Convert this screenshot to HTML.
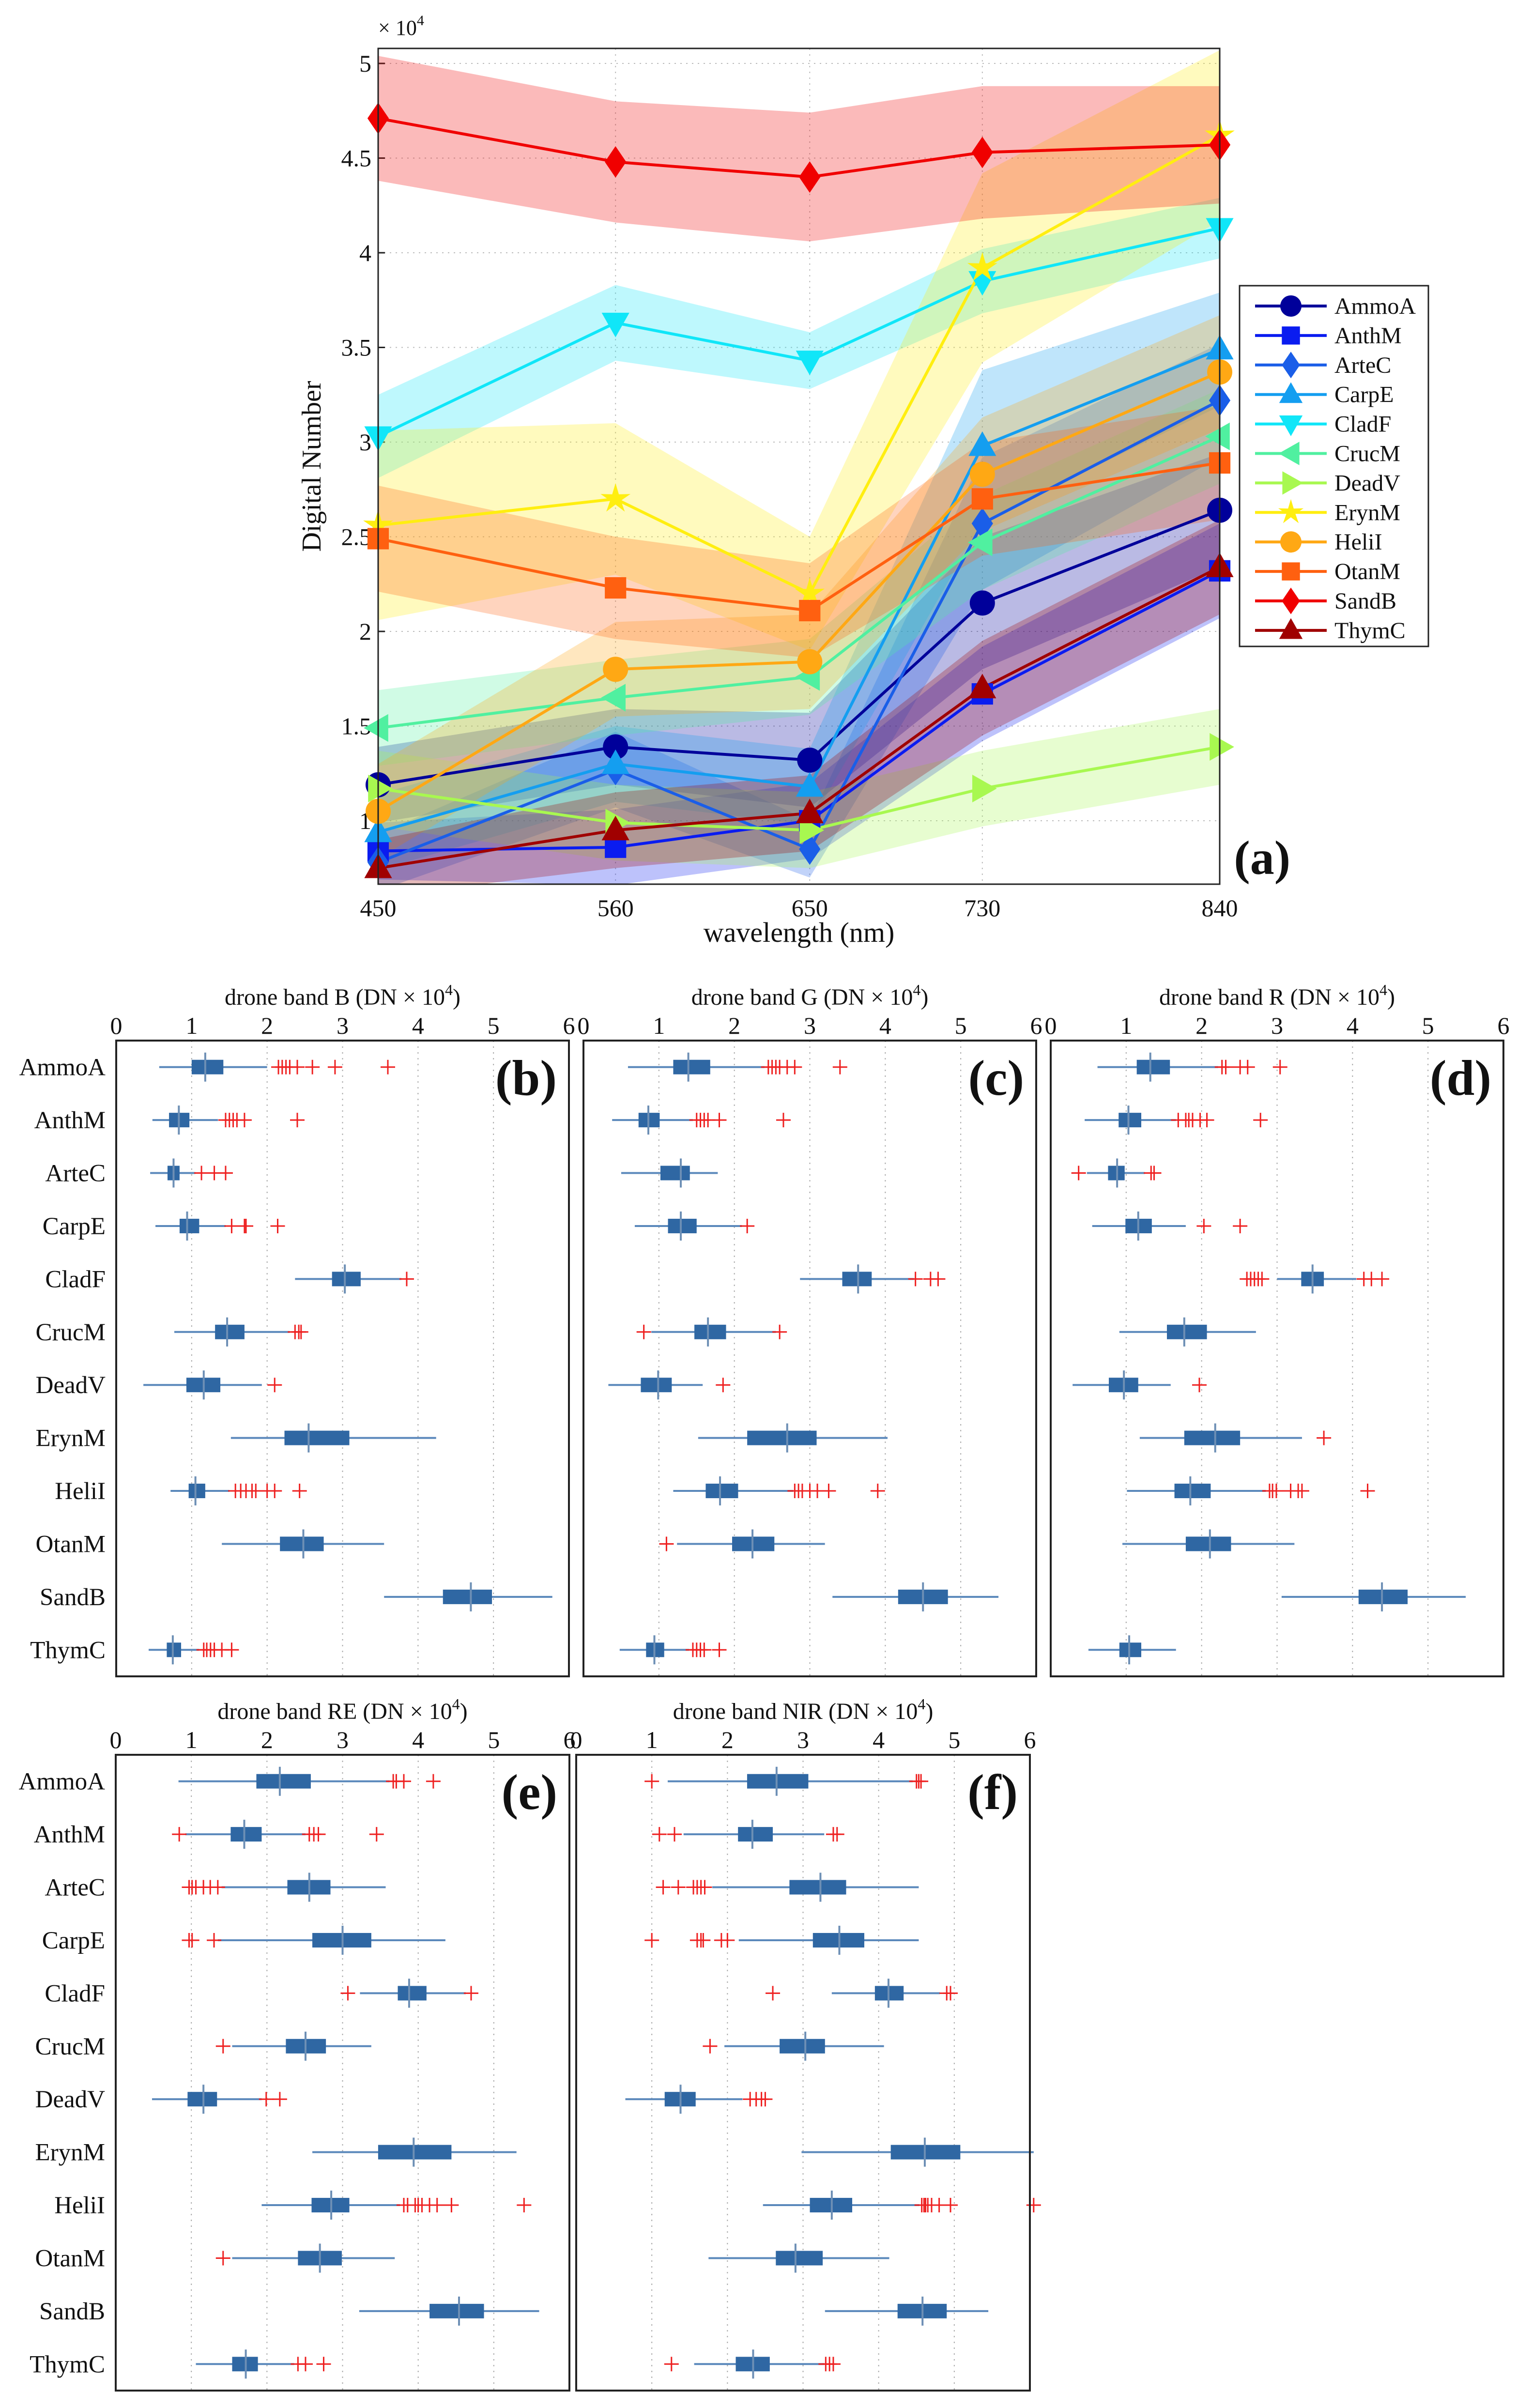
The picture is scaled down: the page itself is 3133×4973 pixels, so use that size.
<!DOCTYPE html>
<html><head><meta charset="utf-8"><style>
html,body{margin:0;padding:0;background:#fff;}
svg{display:block;}
text{font-family:"Liberation Serif",serif;fill:#111;}
.bold{font-family:"Liberation Serif",serif;font-weight:bold;}
</style></head><body>
<svg id="fig" xmlns="http://www.w3.org/2000/svg" width="3133" height="4973" viewBox="0 0 3133 4973">
<rect x="0" y="0" width="3133" height="4973" fill="#fff"/>
<defs><clipPath id="plotclip"><rect x="781" y="100" width="1738" height="1726"/></clipPath></defs>
<g id="lineChart"></g>
<g id="boxCharts"></g>
</svg>
<script>
const NS = "http://www.w3.org/2000/svg";
// ---------- Line chart data ----------
const wavelengths = [450, 560, 650, 730, 840];
const seriesNames = ["AmmoA","AnthM","ArteC","CarpE","CladF","CrucM","DeadV","ErynM","HeliI","OtanM","SandB","ThymC"];
const yTicks = [1, 1.5, 2, 2.5, 3, 3.5, 4, 4.5, 5];
const meanAmmoA = [1.19, 1.39, 1.32, 2.15, 2.64];
const meanAnthM = [0.84, 0.86, 1.00, 1.67, 2.32];
const meanArteC = [0.78, 1.27, 0.85, 2.57, 3.22];
const meanCarpE = [0.94, 1.30, 1.18, 2.98, 3.49];
const meanCladF = [3.03, 3.63, 3.43, 3.85, 4.13];
const meanCrucM = [1.49, 1.65, 1.76, 2.47, 3.03];
const meanDeadV = [1.17, 0.99, 0.95, 1.17, 1.39];
const meanErynM = [2.56, 2.70, 2.20, 3.92, 4.62];
const meanHeliI = [1.05, 1.80, 1.84, 2.83, 3.37];
const meanOtanM = [2.49, 2.23, 2.11, 2.70, 2.89];
const meanSandB = [4.71, 4.48, 4.40, 4.53, 4.57];
const meanThymC = [0.75, 0.95, 1.04, 1.70, 2.34];
const sdAmmoA = [0.20, 0.20, 0.25, 0.35, 0.30];
const sdAnthM = [0.15, 0.20, 0.20, 0.25, 0.25];
const sdArteC = [0.15, 0.20, 0.15, 0.35, 0.30];
const sdCarpE = [0.20, 0.20, 0.20, 0.40, 0.30];
const sdCladF = [0.22, 0.20, 0.15, 0.17, 0.16];
const sdCrucM = [0.20, 0.20, 0.20, 0.25, 0.25];
const sdDeadV = [0.20, 0.20, 0.20, 0.20, 0.20];
const sdErynM = [0.50, 0.40, 0.30, 0.50, 0.45];
const sdHeliI = [0.25, 0.25, 0.25, 0.30, 0.30];
const sdOtanM = [0.28, 0.27, 0.25, 0.30, 0.30];
const sdSandB = [0.33, 0.32, 0.34, 0.35, 0.31];
const sdThymC = [0.15, 0.20, 0.20, 0.25, 0.25];

const means = [meanAmmoA,meanAnthM,meanArteC,meanCarpE,meanCladF,meanCrucM,meanDeadV,meanErynM,meanHeliI,meanOtanM,meanSandB,meanThymC];
const sds = [sdAmmoA,sdAnthM,sdArteC,sdCarpE,sdCladF,sdCrucM,sdDeadV,sdErynM,sdHeliI,sdOtanM,sdSandB,sdThymC];
const colors = ["#00009a","#0a1cf0","#1a5ee8","#149ef0","#10e6f8","#50f0a0","#a8f850","#ffee10","#ffa814","#ff6010","#f00000","#a00000"];
const markers = ["circle","square","diamond","up","down","left","right","star","circle","square","diamond","up"];

const PL=781, PR=2519, PT=100, PB=1826;
function xs(nm){ return PL + (nm-450)*(PR-PL)/390; }
function ys(v){ return 1695 - (v-1)*391; }

function mk(tag, attrs, parent){ const e=document.createElementNS(NS,tag); for(const k in attrs) e.setAttribute(k, attrs[k]); if(parent) parent.appendChild(e); return e; }

function markerShape(type, cx, cy, r, color, parent){
  let el;
  if(type==="circle") el = mk("circle",{cx:cx,cy:cy,r:r,fill:color},parent);
  else if(type==="square") el = mk("rect",{x:cx-r*0.85,y:cy-r*0.85,width:r*1.7,height:r*1.7,fill:color},parent);
  else {
    let pts=[];
    if(type==="diamond") pts=[[0,-1.25],[0.85,0],[0,1.25],[-0.85,0]];
    else if(type==="up") pts=[[0,-1.15],[1.1,0.8],[-1.1,0.8]];
    else if(type==="down") pts=[[0,1.15],[1.1,-0.8],[-1.1,-0.8]];
    else if(type==="left") pts=[[-1.15,0],[0.8,-1.1],[0.8,1.1]];
    else if(type==="right") pts=[[1.15,0],[-0.8,-1.1],[-0.8,1.1]];
    else if(type==="star"){ for(let i=0;i<10;i++){ const a=-Math.PI/2+i*Math.PI/5; const rr=(i%2?0.45:1.25); pts.push([rr*Math.cos(a), rr*Math.sin(a)]); } }
    el = mk("polygon",{points:pts.map(p=>(cx+p[0]*r)+","+(cy+p[1]*r)).join(" "),fill:color},parent);
  }
  return el;
}

const lc = document.getElementById("lineChart");
wavelengths.forEach(w=>{
  const g = mk("line",{x1:xs(w),x2:xs(w),y1:PT,y2:PB,stroke:"#bbb","stroke-width":2,"stroke-dasharray":"3 9"},lc);
  
  
});
yTicks.forEach(v=>{
  const g = mk("line",{x1:PL,x2:PR,y1:ys(v),y2:ys(v),stroke:"#bbb","stroke-width":2,"stroke-dasharray":"3 9"},lc);
  
  
  const t = mk("text",{x:PL-14,y:ys(v)+17,"text-anchor":"end","font-size":50},lc);
  t.textContent = String(v);
  
  
  mk("line",{x1:PL,x2:PL+14,y1:ys(v),y2:ys(v),stroke:"#222","stroke-width":3},lc);
});
wavelengths.forEach(w=>{
  const t = mk("text",{x:xs(w),y:1892,"text-anchor":"middle","font-size":50},lc);
  t.textContent = String(w);
  
  
});
const bandG = mk("g",{"clip-path":"url(#plotclip)"},lc);
means.forEach((m,i)=>{
  const up = m.map((v,j)=>[xs(wavelengths[j]), ys(v+sds[i][j])]);
  const lo = m.map((v,j)=>[xs(wavelengths[j]), ys(v-sds[i][j])]).reverse();
  const p = mk("polygon",{points:up.concat(lo).map(q=>q[0]+","+q[1]).join(" "),fill:colors[i],"fill-opacity":0.27},bandG);
  
  
});
const lineG = mk("g",{"clip-path":"url(#plotclip)"},lc);
means.forEach((m,i)=>{
  const pl = mk("polyline",{points:m.map((v,j)=>xs(wavelengths[j])+","+ys(v)).join(" "),fill:"none",stroke:colors[i],"stroke-width":6},lineG);
  
  
});
means.forEach((m,i)=>{
  m.forEach((v,j)=>{
    const e = markerShape(markers[i], xs(wavelengths[j]), ys(v), 26, colors[i], lc);
    
    
  });
});
const frame = mk("rect",{x:PL,y:PT,width:PR-PL,height:PB-PT,fill:"none",stroke:"#222","stroke-width":3},lc);


const mult = mk("text",{x:781,y:72,"font-size":44},lc);
mult.innerHTML = '× 10<tspan dy="-20" font-size="30">4</tspan>';


const ylab = mk("text",{x:0,y:0,"text-anchor":"middle","font-size":56,transform:"translate(662,963) rotate(-90)"},lc);
ylab.textContent = "Digital Number";


const xlab = mk("text",{x:1650,y:1945,"text-anchor":"middle","font-size":58},lc);
xlab.textContent = "wavelength (nm)";


const pa = mk("text",{x:2665,y:1805,"text-anchor":"end","font-size":100,class:"bold"},lc);
pa.textContent = "(a)";


const leg = mk("g",{},lc);


mk("rect",{x:2560,y:590,width:390,height:745,fill:"#fff",stroke:"#222","stroke-width":3},leg);
seriesNames.forEach((n,i)=>{
  const cy = 632 + i*60.9;
  const row = mk("g",{},leg);
  
  
  mk("line",{x1:2592,x2:2740,y1:cy,y2:cy,stroke:colors[i],"stroke-width":6},row);
  markerShape(markers[i],2666,cy,22,colors[i],row);
  const t = mk("text",{x:2756,y:cy+16,"font-size":48},row);
  t.textContent = n;
});

// ---------- Box plot data: [lowWhisker, q1, median, q3, highWhisker] ----------
const boxB = [[0.57,1.0,1.18,1.42,2.0],[0.48,0.7,0.83,0.97,1.35],[0.45,0.68,0.76,0.84,1.05],[0.52,0.84,0.94,1.1,1.45],[2.37,2.86,3.03,3.24,3.78],[0.77,1.31,1.47,1.7,2.3],[0.36,0.93,1.16,1.38,1.93],[1.52,2.23,2.55,3.09,4.24],[0.72,0.96,1.05,1.18,1.5],[1.4,2.17,2.48,2.75,3.55],[3.55,4.33,4.7,4.98,5.78],[0.43,0.67,0.75,0.86,1.1]];
const outB = [[2.15,2.2,2.25,2.3,2.4,2.6,2.9,3.6],[1.45,1.5,1.55,1.6,1.7,2.4],[1.13,1.3,1.45],[1.53,1.7,1.72,2.14],[3.85],[2.37,2.42,2.45],[2.1],[],[1.58,1.65,1.72,1.8,1.85,2.0,2.1,2.43],[],[],[1.16,1.2,1.25,1.3,1.4,1.53]];
const boxG = [[0.59,1.19,1.39,1.68,2.4],[0.38,0.73,0.86,1.01,1.45],[0.5,1.02,1.29,1.41,1.78],[0.68,1.12,1.29,1.5,2.1],[2.87,3.43,3.64,3.82,4.38],[0.9,1.47,1.65,1.89,2.55],[0.33,0.76,0.99,1.17,1.58],[1.52,2.17,2.7,3.09,4.03],[1.19,1.62,1.81,2.05,2.78],[1.24,1.97,2.24,2.53,3.2],[3.3,4.17,4.5,4.83,5.5],[0.48,0.83,0.94,1.07,1.4]];
const outG = [[2.45,2.5,2.55,2.6,2.7,2.8,3.4],[1.5,1.55,1.6,1.65,1.8,2.65],[],[2.17],[4.4,4.6,4.7],[0.8,2.6],[1.85],[],[2.8,2.85,2.9,3.0,3.1,3.25,3.9],[1.1],[],[1.45,1.5,1.55,1.6,1.8]];
const boxR = [[0.62,1.14,1.32,1.58,2.22],[0.45,0.9,1.03,1.2,1.66],[0.48,0.76,0.88,0.98,1.25],[0.55,0.99,1.16,1.34,1.79],[3.0,3.32,3.47,3.62,4.05],[0.91,1.54,1.77,2.07,2.72],[0.29,0.77,0.97,1.16,1.59],[1.18,1.77,2.18,2.51,3.33],[1.01,1.64,1.85,2.12,2.85],[0.95,1.79,2.11,2.39,3.23],[3.06,4.08,4.39,4.73,5.5],[0.5,0.91,1.04,1.2,1.66]];
const outR = [[2.27,2.32,2.51,2.61,3.04],[1.69,1.79,1.83,1.88,1.98,2.07,2.78],[0.37,1.33,1.37],[2.03,2.51],[2.6,2.65,2.7,2.75,2.8,4.15,4.25,4.39],[],[1.97],[3.62],[2.9,2.94,2.99,3.18,3.28,3.33,4.2],[],[],[]];
const boxRE = [[0.83,1.86,2.17,2.58,3.62],[0.92,1.52,1.7,1.93,2.51],[1.4,2.27,2.56,2.84,3.57],[1.35,2.6,3.0,3.38,4.36],[3.23,3.73,3.88,4.11,4.63],[1.54,2.25,2.51,2.78,3.38],[0.48,0.95,1.16,1.34,1.93],[2.6,3.47,3.94,4.44,5.3],[1.93,2.59,2.85,3.09,3.76],[1.54,2.41,2.7,2.99,3.69],[3.22,4.15,4.54,4.87,5.6],[1.06,1.54,1.72,1.88,2.36]];
const outRE = [[3.67,3.71,3.81,4.2],[0.84,2.56,2.62,2.68,3.45],[0.97,1.01,1.06,1.16,1.25,1.35],[0.97,1.01,1.3],[3.07,4.7],[1.42],[1.99,2.17],[],[3.81,3.86,3.96,4.0,4.05,4.15,4.25,4.44,5.4],[1.42],[],[2.41,2.51,2.75]];
const boxNIR = [[1.21,2.26,2.65,3.07,4.45],[1.42,2.14,2.33,2.6,3.28],[1.8,2.82,3.23,3.57,4.53],[2.15,3.13,3.48,3.81,4.53],[3.38,3.95,4.13,4.33,4.81],[1.96,2.69,3.03,3.29,4.07],[0.65,1.17,1.38,1.58,2.2],[2.98,4.16,4.61,5.08,6.05],[2.47,3.09,3.38,3.65,4.54],[1.75,2.64,2.9,3.26,4.14],[3.29,4.25,4.58,4.9,5.45],[1.56,2.11,2.34,2.56,3.28]];
const outNIR = [[1.0,4.5,4.53,4.56],[1.1,1.3,3.4,3.45],[1.15,1.35,1.55,1.6,1.65,1.7],[1.0,1.6,1.65,1.68,1.92,2.0],[2.6,4.9,4.95],[1.77],[2.3,2.38,2.45,2.5],[],[4.57,4.6,4.62,4.65,4.7,4.8,4.95,6.05],[],[],[1.26,3.3,3.35,3.4]];
const xTickVals = [0,1,2,3,4,5,6];

const panels = [
  {x0:240,x1:1175,y0:2149,y1:3462,band:"B",lab:"(b)",box:boxB,out:outB,rows:true},
  {x0:1205,x1:2140,y0:2149,y1:3462,band:"G",lab:"(c)",box:boxG,out:outG,rows:false},
  {x0:2170,x1:3105,y0:2149,y1:3462,band:"R",lab:"(d)",box:boxR,out:outR,rows:false},
  {x0:239,x1:1176,y0:3624,y1:4937,band:"RE",lab:"(e)",box:boxRE,out:outRE,rows:true},
  {x0:1190,x1:2127,y0:3624,y1:4937,band:"NIR",lab:"(f)",box:boxNIR,out:outNIR,rows:false}
];
const bc = document.getElementById("boxCharts");
panels.forEach(P=>{
  const g = mk("g",{},bc);
  
  
  const xv = v => P.x0 + v*(P.x1-P.x0)/6;
  const rh = (P.y1-P.y0)/12;
  const ry = i => P.y0 + (i+0.5)*rh;
  xTickVals.forEach(v=>{
    if(v>0 && v<6){
      const gl = mk("line",{x1:xv(v),x2:xv(v),y1:P.y0,y2:P.y1,stroke:"#aaa","stroke-width":2,"stroke-dasharray":"3 9"},g);
      
      
    }
    const t = mk("text",{x:xv(v),y:P.y0-14,"text-anchor":"middle","font-size":50},g);
    t.textContent = String(v);
    
    
  });
  const title = mk("text",{x:(P.x0+P.x1)/2,y:P.y0-74,"text-anchor":"middle","font-size":48},g);
  title.innerHTML = 'drone band '+P.band+'  (DN × 10<tspan dy="-20" font-size="32">4</tspan><tspan dy="20">)</tspan>';
  
  
  P.box.forEach((b,i)=>{
    const cy = ry(i);
    const grp = mk("g",{},g);
    
    
    mk("line",{x1:xv(b[0]),x2:xv(b[4]),y1:cy,y2:cy,stroke:"#5a88bb","stroke-width":4},grp);
    mk("rect",{x:xv(b[1]),y:cy-15,width:xv(b[3])-xv(b[1]),height:30,fill:"#2f67a3"},grp);
    mk("line",{x1:xv(b[2]),x2:xv(b[2]),y1:cy-30,y2:cy+30,stroke:"#6d8fb5","stroke-width":4},grp);
    P.out[i].forEach(o=>{
      const px = xv(o);
      const op = mk("path",{d:`M${px-15},${cy}H${px+15}M${px},${cy-15}V${cy+15}`,stroke:"#ee2020","stroke-width":3,fill:"none"},grp);
      
      
    });
    if(P.rows){
      const t = mk("text",{x:P.x0-22,y:cy+17,"text-anchor":"end","font-size":51},g);
      t.textContent = seriesNames[i];
      
      
    }
  });
  const fr = mk("rect",{x:P.x0,y:P.y0,width:P.x1-P.x0,height:P.y1-P.y0,fill:"none",stroke:"#222","stroke-width":4},g);
  
  
  const pl = mk("text",{x:P.x1-25,y:P.y0+112,"text-anchor":"end","font-size":104,class:"bold"},g);
  pl.textContent = P.lab;
  
  
});
</script>
</body></html>
